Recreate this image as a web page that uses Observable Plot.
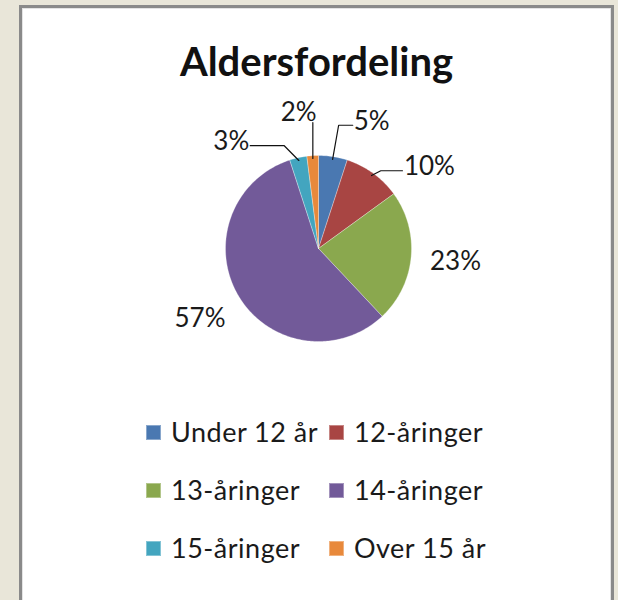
<!DOCTYPE html>
<html><head><meta charset="utf-8">
<script src="https://cdn.jsdelivr.net/npm/d3@7"></script>
<script src="https://cdn.jsdelivr.net/npm/@observablehq/plot@0.6"></script>
<style>
html,body{margin:0;padding:0;width:618px;height:600px;overflow:hidden;background:#e9e6d9;font-family:Lato,"Noto Sans",sans-serif;}
#frame{position:absolute;left:19px;top:5px;width:589px;height:600px;background:#fff;border:3px solid #8a8a8a;border-bottom:none;box-shadow:inset 1px 1px 0 #e4e4e4,inset -1px 0 0 #e4e4e4;}
#title{position:absolute;left:0;top:33px;width:589px;text-align:center;font-weight:bold;font-size:40px;line-height:40px;color:#111;}
#chart{position:absolute;left:0;top:80px;}
#legend .item{position:absolute;display:flex;align-items:center;font-size:27px;line-height:26px;letter-spacing:0.5px;color:#1a1a1a;white-space:nowrap;}
#legend .sw{width:15px;height:15px;margin-right:10px;box-sizing:border-box;border:1px solid rgba(255,255,255,0.35);}
</style></head>
<body>
<div id="frame">
  <div id="title">Aldersfordeling</div>
  <div id="chart"></div>
  <div id="legend"></div>
</div>
<script>
const categories = ["Under 12 år", "12-åringer", "13-åringer", "14-åringer", "15-åringer", "Over 15 år"];
const shares = [5, 10, 23, 57, 3, 2];
const pctLabels = ["5%", "10%", "23%", "57%", "3%", "2%"];
const colors = ["#4a78b1", "#a84543", "#8aa84e", "#725a99", "#43a5bf", "#e8893b"];

// ---- pie geometry (Excel: start at 12 o'clock, clockwise) ----
const total = d3.sum(shares);
let cum = 0;
const slices = categories.map((c, i) => {
  const a0 = cum / total * 360; cum += shares[i];
  const a1 = cum / total * 360;
  return {cat: c, i, a0, a1, mid: (a0 + a1) / 2};
});
const rad = d => d * Math.PI / 180;
const pt = (deg, r) => ({x: r * Math.sin(rad(deg)), y: r * Math.cos(rad(deg))});

const wedgeRows = [];
for (const s of slices) {
  wedgeRows.push({cat: s.cat, x: 0, y: 0});
  const n = Math.max(2, Math.ceil(s.a1 - s.a0));
  for (let k = 0; k <= n; k++) {
    const p = pt(s.a0 + (s.a1 - s.a0) * k / n, 1);
    wedgeRows.push({cat: s.cat, ...p});
  }
  wedgeRows.push({cat: s.cat, x: 0, y: 0});
}

// ---- label placement: spread crowded labels apart angularly ----
const norm = a => (a > 180 ? a - 360 : a);
const lab = slices.map(s => ({i: s.i, text: pctLabels[s.i], mid: norm(s.mid), ang: norm(s.mid)}));
const sorted = [...lab].sort((a, b) => a.ang - b.ang);
const minSep = 31;
for (let it = 0; it < 400; it++) {
  for (let k = 0; k < sorted.length - 1; k++) {
    const d = sorted[k + 1].ang - sorted[k].ang;
    if (d < minSep) { const p = (minSep - d) / 2; sorted[k].ang -= p; sorted[k + 1].ang += p; }
  }
}
const R = 93; // px per unit (pie radius)
const labelR = 1.48;
const fs = 26;
for (const l of lab) {
  const p = pt(l.ang, labelR);
  l.x = p.x; l.y = p.y;
  l.hw = (l.text.length * 0.62 * fs) / 2 / R;
  l.hh = 0.4 * fs / R;
}
const leaderRows = [];
for (const l of lab) {
  if (Math.abs(l.ang - l.mid) < 3) continue;
  const p0 = pt(l.mid, 0.97);
  let p2;
  if (Math.abs(l.x - p0.x) < l.hw) p2 = {x: p0.x, y: l.y - l.hh};
  else p2 = {x: l.x + (l.x > p0.x ? -(l.hw + 0.03) : (l.hw + 0.03)), y: l.y - 0.04};
  const p1 = {x: p0.x + 0.3 * (p2.x - p0.x), y: p2.y};
  [p0, p1, p2].forEach(p => leaderRows.push({id: l.i, ...p}));
}

const W = 589, H = 320, cx = 296, cy = 160;
const chart = Plot.plot({
  width: W, height: H,
  marginLeft: cx - R, marginRight: W - cx - R,
  marginTop: cy - R, marginBottom: H - cy - R,
  x: {domain: [-1, 1], axis: null},
  y: {domain: [-1, 1], axis: null},
  color: {domain: categories, range: colors},
  style: {fontFamily: "Lato, 'Noto Sans', sans-serif", background: "transparent", overflow: "visible"},
  marks: [
    Plot.line(wedgeRows, {x: "x", y: "y", z: "cat", fill: "cat", stroke: "#ffffff", strokeWidth: 0.6, strokeOpacity: 0.5, curve: "linear"}),
    Plot.line(leaderRows, {x: "x", y: "y", z: "id", stroke: "#111", strokeWidth: 1.2}),
    Plot.text(lab, {x: "x", y: "y", text: "text", fontSize: fs, fill: "#1a1a1a"})
  ]
});
document.getElementById("chart").appendChild(chart);

// ---- legend ----
const legend = document.getElementById("legend");
const colX = [124, 307];
const rowTop = [411, 469, 527];
categories.forEach((c, i) => {
  const it = document.createElement("div");
  it.className = "item";
  it.style.left = colX[i % 2] + "px";
  it.style.top = rowTop[Math.floor(i / 2)] + "px";
  const sw = document.createElement("span");
  sw.className = "sw"; sw.style.background = colors[i];
  const t = document.createElement("span"); t.textContent = c;
  it.appendChild(sw); it.appendChild(t);
  legend.appendChild(it);
});
</script>
</body></html>
